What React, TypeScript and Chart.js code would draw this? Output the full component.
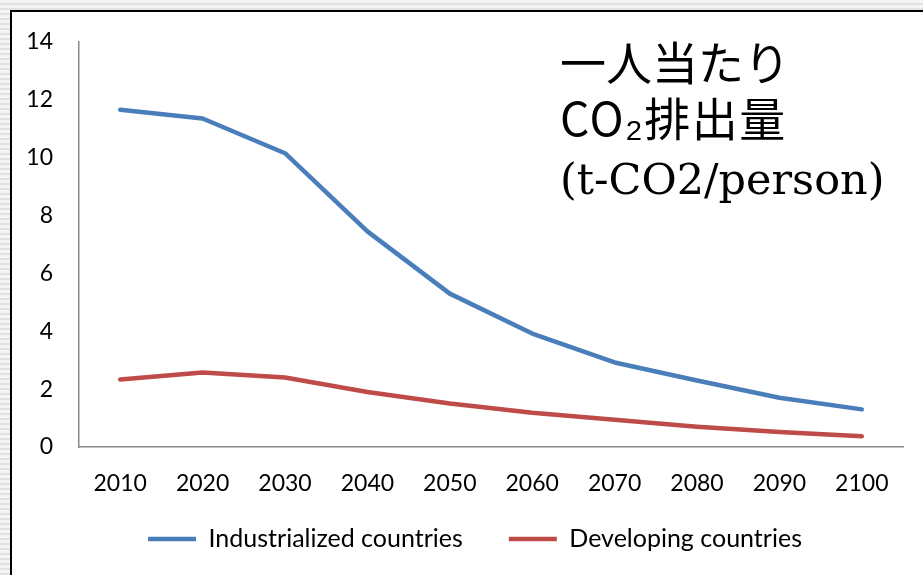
import React, { useEffect, useRef } from "react";
import { Chart, registerables } from "chart.js";

Chart.register(...registerables);

// Per-capita CO2 emissions (t-CO2/person), 2010–2100
const years = ["2010", "2020", "2030", "2040", "2050", "2060", "2070", "2080", "2090", "2100"];
const industrialized = [11.65, 11.35, 10.15, 7.45, 5.3, 3.92, 2.92, 2.3, 1.7, 1.3];
const developing = [2.33, 2.57, 2.4, 1.9, 1.5, 1.18, 0.94, 0.7, 0.52, 0.37];
const seriesNames = ["Industrialized countries", "Developing countries"];
const yMin = 0;
const yMax = 14;
const yStep = 2;

const BLUE = "#4A7EBB";
const RED = "#BE4B48";
const AXIS = "#898989";
const FONT = "Lato, 'Open Sans', sans-serif";

// Canvas placement inside the page
const CANVAS_LEFT = 12;
const CANVAS_TOP = 2;
const CANVAS_W = 928;
const CANVAS_H = 573;

// Places the legend row below the axis labels, centred on the whole frame,
// independent of the label padding used to space the two items.
const legendRow = {
  id: "legendRow",
  beforeDraw(chart: any) {
    const lg = chart.legend;
    if (!lg) return;
    const pad = lg.options.labels.padding;
    const size = lg.options.labels.font.size;
    const centerY = 539 - CANVAS_TOP;
    const centerX = 475 - CANVAS_LEFT;
    const w = lg.right - lg.left;
    lg.top = centerY - pad - size / 2;
    lg.bottom = chart.height;
    lg.left = centerX - w / 2;
    lg.right = lg.left + w;
  },
};

export default function App() {
  const canvasRef = useRef<HTMLCanvasElement | null>(null);

  useEffect(() => {
    const html = document.documentElement;
    html.style.overflow = "hidden";
    document.body.style.overflow = "hidden";
    document.body.style.margin = "0";
    document.body.style.background =
      "repeating-linear-gradient(to bottom, #f4f4f4 0px, #f4f4f4 3px, #e2e2e2 3px, #e2e2e2 5px)";

    const canvas = canvasRef.current;
    if (!canvas) return;
    const chart = new Chart(canvas, {
      type: "line",
      data: {
        labels: years,
        datasets: [
          {
            label: seriesNames[0],
            data: industrialized,
            borderColor: BLUE,
            backgroundColor: BLUE,
            borderWidth: 4.5,
            borderCapStyle: "round",
            borderJoinStyle: "round",
            pointRadius: 0,
            tension: 0,
          },
          {
            label: seriesNames[1],
            data: developing,
            borderColor: RED,
            backgroundColor: RED,
            borderWidth: 4.5,
            borderCapStyle: "round",
            borderJoinStyle: "round",
            pointRadius: 0,
            tension: 0,
          },
        ],
      },
      plugins: [legendRow],
      options: {
        animation: false,
        responsive: true,
        maintainAspectRatio: false,
        events: [],
        layout: { padding: { top: 38, right: 37, left: 0, bottom: 0 } },
        scales: {
          x: {
            type: "category",
            offset: true,
            grid: { display: false, drawTicks: false },
            border: { display: true, color: AXIS, width: 1.5 },
            ticks: { color: "#000", font: { family: FONT, size: 23 }, padding: 23, maxRotation: 0 },
            afterFit: (scale: any) => {
              scale.height = 60;
            },
          },
          y: {
            min: yMin,
            max: yMax,
            grid: { display: false, drawTicks: false },
            border: { display: true, color: AXIS, width: 1.5 },
            ticks: { stepSize: yStep, color: "#000", font: { family: FONT, size: 23 }, padding: 26 },
            afterFit: (scale: any) => {
              scale.width = 67;
            },
          },
        },
        plugins: {
          tooltip: { enabled: false },
          legend: {
            position: "bottom",
            maxHeight: 68,
            labels: {
              usePointStyle: true,
              pointStyle: "line",
              pointStyleWidth: 48,
              color: "#000",
              font: { family: FONT, size: 25 },
              padding: 46,
            },
          },
        },
      },
    });
    return () => chart.destroy();
  }, []);

  return (
    <div style={{ position: "relative", width: 923, height: 575, overflow: "hidden" }}>
      <div
        style={{
          position: "absolute",
          left: 10,
          top: 10,
          width: 1000,
          height: 700,
          background: "#fff",
          borderLeft: "2px solid #000",
          borderTop: "2px solid #000",
        }}
      />
      <div
        style={{
          position: "absolute",
          left: CANVAS_LEFT,
          top: CANVAS_TOP,
          width: CANVAS_W,
          height: CANVAS_H,
        }}
      >
        <canvas ref={canvasRef} />
      </div>
      <div
        style={{
          position: "absolute",
          left: 560,
          top: 32,
          fontFamily: "'Noto Sans CJK JP', sans-serif",
          fontSize: 46,
          lineHeight: "56px",
          color: "#000",
          whiteSpace: "nowrap",
        }}
      >
        <div>一人当たり</div>
        <div style={{ letterSpacing: 1.5 }}>CO₂排出量</div>
      </div>
      <div
        style={{
          position: "absolute",
          left: 560,
          top: 151,
          fontFamily: "'DejaVu Serif', serif",
          fontSize: 43,
          lineHeight: "56px",
          color: "#000",
          whiteSpace: "nowrap",
        }}
      >
        (t-CO2/person)
      </div>
    </div>
  );
}
